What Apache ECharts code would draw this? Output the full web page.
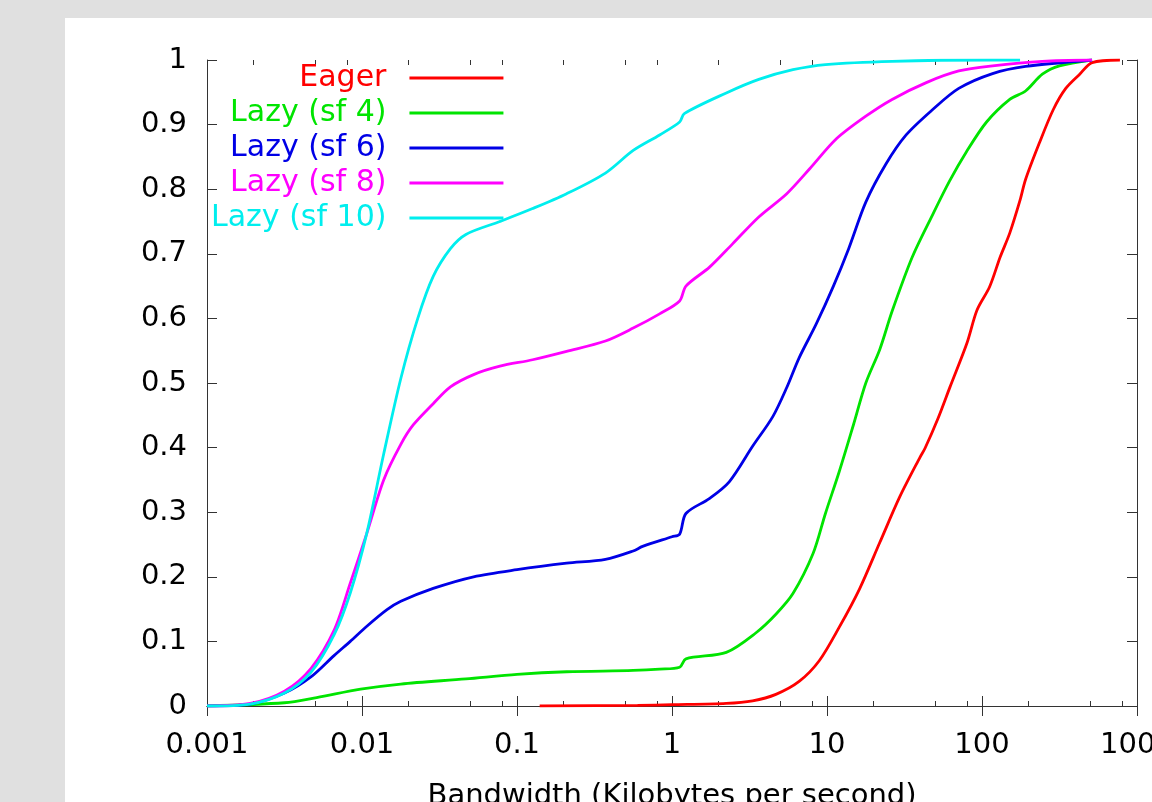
<!DOCTYPE html>
<html><head><meta charset="utf-8">
<script src="https://cdn.jsdelivr.net/npm/echarts@6/dist/echarts.min.js"></script>
<style>
html,body{margin:0;padding:0;width:1152px;height:802px;overflow:hidden;background:#e0e0e0;}
#panel{position:absolute;left:65px;top:18px;right:0;bottom:0;background:#fff;}
#chart{position:absolute;left:0;top:0;width:1152px;height:802px;}
</style></head><body><div id="panel"></div><div id="chart"></div>
<script>
const seriesNames = ['Eager', 'Lazy (sf 4)', 'Lazy (sf 6)', 'Lazy (sf 8)', 'Lazy (sf 10)'];
const xTickLabels = ['0.001', '0.01', '0.1', '1', '10', '100', '1000'];
const yTickLabels = ['0', '0.1', '0.2', '0.3', '0.4', '0.5', '0.6', '0.7', '0.8', '0.9', '1'];
const xMinorTicks = [0.002, 0.005, 0.008, 0.02, 0.05, 0.08, 0.2, 0.5, 0.8, 2, 5, 8, 20, 50, 80, 200, 500, 800];
const xAxisTitle = 'Bandwidth (Kilobytes per second)';

const eager = [[0.14,0],[0.6,0.001],[1.0,0.002],[2.24,0.004],[3.31,0.008],[4.68,0.018],[6.61,0.038],[8.91,0.07],[12.0,0.122],[16.2,0.181],[21.9,0.253],[29.5,0.324],[39.8,0.385],[42.9,0.399],[52,0.445],[62.2,0.494],[80,0.562],[92.9,0.613],[112,0.649],[131,0.695],[151,0.732],[176,0.783],[191,0.815],[234,0.871],[288,0.923],[347,0.956],[427,0.978],[513,0.996],[776,1.0]];
const lazySf4 = [[0.001,0],[0.00316,0.005],[0.0051,0.013],[0.0098,0.026],[0.0178,0.034],[0.0468,0.042],[0.1,0.049],[0.209,0.053],[0.562,0.055],[0.832,0.057],[1.12,0.06],[1.23,0.073],[2.24,0.083],[3.47,0.113],[4.68,0.142],[6.03,0.174],[8.13,0.236],[9.77,0.298],[12.0,0.363],[14.8,0.435],[17.8,0.5],[21.9,0.552],[26.3,0.611],[35.5,0.695],[47.9,0.76],[61.7,0.8125],[79.4,0.858],[107,0.904],[151,0.939],[191,0.952],[245,0.978],[316,0.991],[513,1.0]];
const lazySf6 = [[0.001,0],[0.0019,0.003],[0.00316,0.02],[0.00468,0.045],[0.0066,0.078],[0.0084,0.1],[0.0107,0.123],[0.0145,0.149],[0.0178,0.162],[0.0288,0.182],[0.0525,0.2],[0.1,0.211],[0.209,0.221],[0.372,0.227],[0.562,0.24],[0.646,0.247],[1.0,0.262],[1.12,0.266],[1.23,0.298],[1.74,0.321],[2.34,0.347],[3.31,0.402],[4.47,0.448],[5.5,0.493],[6.61,0.539],[8.51,0.591],[11.0,0.65],[13.8,0.708],[17.8,0.78],[24.0,0.839],[32.4,0.884],[47.9,0.923],[70.8,0.956],[117,0.979],[191,0.99],[513,1.0]];
const lazySf8 = [[0.001,0],[0.0019,0.004],[0.00316,0.023],[0.00468,0.058],[0.0066,0.117],[0.0084,0.19],[0.0107,0.266],[0.0138,0.35],[0.0178,0.405],[0.0214,0.435],[0.0288,0.468],[0.0372,0.494],[0.0525,0.513],[0.0776,0.526],[0.126,0.536],[0.209,0.549],[0.372,0.565],[0.562,0.585],[0.832,0.607],[1.12,0.627],[1.23,0.65],[1.74,0.679],[2.45,0.715],[3.63,0.757],[5.5,0.793],[7.76,0.832],[11.5,0.878],[17.8,0.913],[26.3,0.939],[43.7,0.965],[70.8,0.983],[117,0.991],[245,0.998],[513,1.0]];
const lazySf10 = [[0.001,0],[0.0019,0.003],[0.00316,0.02],[0.00468,0.052],[0.0066,0.11],[0.0084,0.175],[0.0107,0.266],[0.0138,0.39],[0.0178,0.507],[0.0229,0.6],[0.0288,0.665],[0.0372,0.708],[0.0468,0.73],[0.0776,0.75],[0.126,0.77],[0.209,0.793],[0.372,0.825],[0.562,0.86],[0.832,0.884],[1.12,0.904],[1.2,0.917],[2.24,0.949],[3.63,0.97],[6.03,0.985],[9.77,0.993],[26.3,0.998],[117,1.0],[176,1.0]];

const seriesData = [eager, lazySf4, lazySf6, lazySf8, lazySf10];
const colors = ['#ff0000', '#00e400', '#0000e6', '#ff00ff', '#00eeee'];

const FONT = 'DejaVu Sans';
const AX = '#333333';
const X_MIN = 0.001, X_MAX = 1000;

function fmtX(v) {
  const s = xTickLabels.find(t => Math.abs(Math.log10(+t) - Math.log10(v)) < 1e-6);
  return s || '';
}
function fmtY(v) {
  const s = yTickLabels.find(t => Math.abs(+t - v) < 1e-6);
  return s || '';
}

const chart = echarts.init(document.getElementById('chart'), null, {renderer: 'canvas'});
const labelStyle = {fontSize: 29, fontFamily: FONT, color: '#000'};

const option = {
  animation: false,
  backgroundColor: 'transparent',
  grid: {left: 207, right: 15, top: 60, bottom: 96, containLabel: false, outerBoundsMode: 'none'},
  legend: {
    orient: 'vertical', left: 211, top: 63, padding: 0, itemGap: 5, align: 'right',
    icon: 'rect', itemWidth: 94, itemHeight: 3, selectedMode: false,
    textStyle: {fontSize: 30, fontFamily: FONT, lineHeight: 30, padding: [0, 18, 0, 0]},
    data: seriesNames.map((n, i) => ({name: n, textStyle: {color: colors[i]}}))
  },
  xAxis: [
    {
      type: 'log', logBase: 10, min: X_MIN, max: X_MAX, position: 'bottom',
      axisLine: {show: true, lineStyle: {color: AX, width: 1}},
      axisTick: {show: true, inside: true, length: 10, lineStyle: {color: AX, width: 1}},
      axisLabel: Object.assign({show: true, margin: 25, formatter: fmtX}, labelStyle),
      splitLine: {show: false},
      name: xAxisTitle, nameLocation: 'middle', nameGap: 76,
      nameTextStyle: labelStyle
    },
    {
      type: 'log', logBase: 10, min: X_MIN, max: X_MAX, position: 'top',
      axisLine: {show: true, lineStyle: {color: AX, width: 1}},
      axisTick: {show: true, inside: true, length: 10, lineStyle: {color: AX, width: 1}},
      axisLabel: {show: false}, splitLine: {show: false}
    },
    {
      type: 'log', logBase: 10, min: X_MIN, max: X_MAX, position: 'bottom',
      axisLine: {show: false},
      axisTick: {show: true, inside: true, length: 5, customValues: xMinorTicks, lineStyle: {color: AX, width: 1}},
      axisLabel: {show: false}, splitLine: {show: false}
    },
    {
      type: 'log', logBase: 10, min: X_MIN, max: X_MAX, position: 'top',
      axisLine: {show: false},
      axisTick: {show: true, inside: true, length: 5, customValues: xMinorTicks, lineStyle: {color: AX, width: 1}},
      axisLabel: {show: false}, splitLine: {show: false}
    }
  ],
  yAxis: [
    {
      type: 'value', min: 0, max: 1, interval: 0.1, position: 'left',
      axisLine: {show: true, lineStyle: {color: AX, width: 1}},
      axisTick: {show: true, inside: true, length: 10, lineStyle: {color: AX, width: 1}},
      axisLabel: Object.assign({show: true, margin: 20, formatter: fmtY}, labelStyle),
      splitLine: {show: false}
    },
    {
      type: 'value', min: 0, max: 1, interval: 0.1, position: 'right',
      axisLine: {show: true, lineStyle: {color: AX, width: 1}},
      axisTick: {show: true, inside: true, length: 10, lineStyle: {color: AX, width: 1}},
      axisLabel: {show: false}, splitLine: {show: false}
    }
  ],
  series: seriesNames.map((n, i) => ({
    name: n, type: 'line', xAxisIndex: 0, yAxisIndex: 0,
    data: seriesData[i], showSymbol: false, symbol: 'none',
    smooth: 0.3,
    lineStyle: {color: colors[i], width: 2.8}, itemStyle: {color: colors[i]},
    z: 2 + i, silent: true
  }))
};
chart.setOption(option);
</script></body></html>
